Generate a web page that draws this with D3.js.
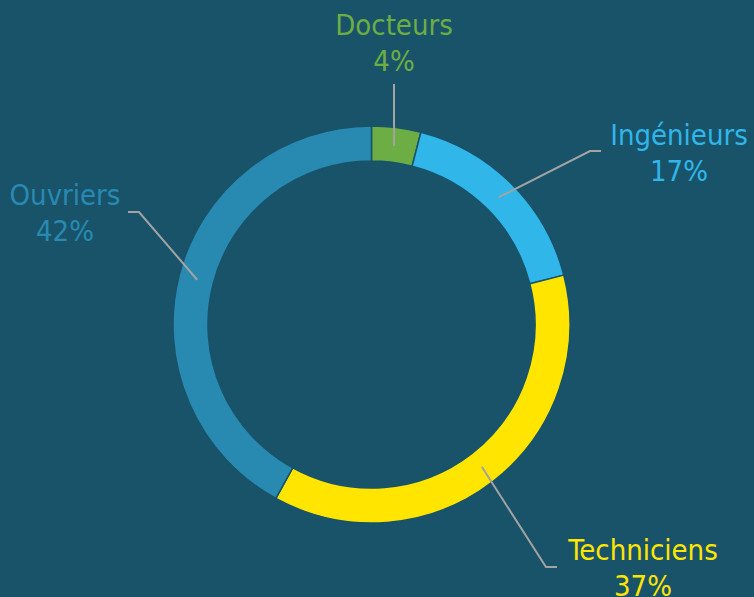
<!DOCTYPE html>
<html><head><meta charset="utf-8">
<script src="https://cdn.jsdelivr.net/npm/d3@7"></script>
<style>html,body{margin:0;padding:0;background:#18536a;overflow:hidden}</style>
</head><body>
<svg id="c" width="754" height="597"></svg>
<script>
const categories = ["Docteurs", "Ingénieurs", "Techniciens", "Ouvriers"];
const values = [4, 17, 37, 42];
const colors = ["#6cae43", "#31b6e9", "#ffe500", "#2889b1"];
// label layout: text anchor centre, first baseline, elbow and end of leader
const labelLayout = [
  {tx: 394, ty: 35, elbow: null, end: [394, 84]},
  {tx: 679, ty: 145, elbow: [590, 151], end: [601, 151]},
  {tx: 643, ty: 560, elbow: [546, 567], end: [557, 567]},
  {tx: 65, ty: 205, elbow: [139, 212], end: [128, 212]}
];
const W = 754, H = 597, cx = 371.5, cy = 324.5, rOut = 198.5, rIn = 163.5, rLab = 180;
const svg = d3.select("#c");
svg.append("rect").attr("width", W).attr("height", H).attr("fill", "#18536a");
const data = categories.map((c, i) => ({name: c, value: values[i], color: colors[i], lay: labelLayout[i]}));
const pie = d3.pie().sort(null).value(d => d.value);
const arcs = pie(data);
const arc = d3.arc().innerRadius(rIn).outerRadius(rOut);
const labArc = d3.arc().innerRadius(rLab).outerRadius(rLab);
const g = svg.append("g").attr("transform", `translate(${cx},${cy})`);
g.selectAll("path.s").data(arcs).join("path").attr("class", "s")
  .attr("d", arc).attr("fill", d => d.data.color)
  .attr("stroke", "#18536a").attr("stroke-width", 1.5);
// leader lines
g.selectAll("polyline").data(arcs).join("polyline")
  .attr("fill", "none").attr("stroke", "#a3a3a3").attr("stroke-width", 2)
  .attr("points", d => {
    const p = labArc.centroid(d);
    const pts = [p];
    const L = d.data.lay;
    if (L.elbow) pts.push([L.elbow[0] - cx, L.elbow[1] - cy]);
    pts.push([L.end[0] - cx, L.end[1] - cy]);
    return pts.map(q => q.join(",")).join(" ");
  });
const fmt = v => v + "%";
const t = svg.selectAll("text.l").data(data).join("text").attr("class", "l")
  .attr("text-anchor", "middle")
  .attr("font-family", "'DejaVu Sans Condensed','Liberation Sans Narrow',sans-serif")
  .attr("font-stretch", "condensed")
  .attr("font-size", 29).attr("fill", d => d.color);
t.append("tspan").attr("x", d => d.lay.tx).attr("y", d => d.lay.ty).text(d => d.name);
t.append("tspan").attr("x", d => d.lay.tx).attr("y", d => d.lay.ty + 36).text(d => fmt(d.value));
</script>
</body></html>
